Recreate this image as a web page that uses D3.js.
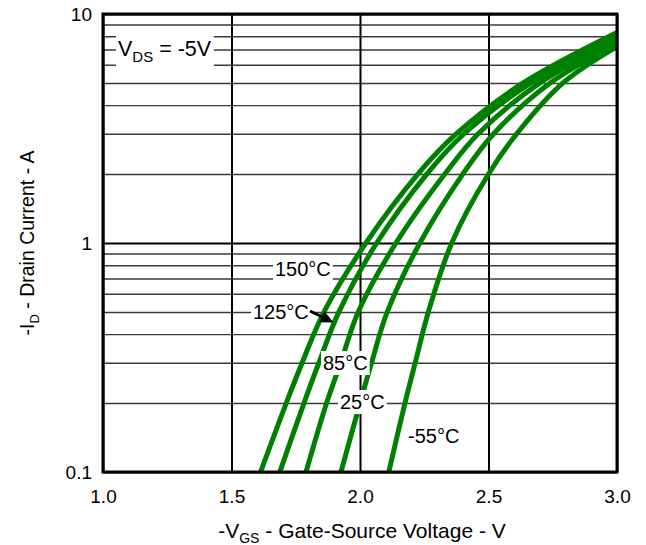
<!DOCTYPE html>
<html>
<head>
<meta charset="utf-8">
<script src="https://cdn.jsdelivr.net/npm/d3@7"></script>
<style>
  body { margin: 0; background: #fff; }
  svg { display: block; font-family: "Liberation Sans", Arial, sans-serif; }
</style>
</head>
<body>
<svg id="chart"></svg>
<script>
var width = 646, height = 545;

// drain current levels (A)
var currents = [0.1, 0.2, 0.3, 0.5, 1, 2, 3, 5];
// gate voltage at each current level, per temperature (V)
var v150 = [1.613, 1.713, 1.775, 1.860, 2.023, 2.225, 2.375, 2.635];
var v125 = [1.688, 1.782, 1.840, 1.918, 2.065, 2.26, 2.405, 2.665];
var v85 = [1.790, 1.870, 1.925, 1.993, 2.140, 2.33, 2.46, 2.70];
var v25 = [1.926, 2.000, 2.045, 2.106, 2.233, 2.40, 2.52, 2.74];
var vm55 = [2.112, 2.175, 2.215, 2.266, 2.357, 2.50, 2.61, 2.79];
// current at -VGS = 3.0 V
var endCurrents = [8.3, 8.0, 7.7, 7.4, 7.2];
var temps = ['150°C', '125°C', '85°C', '25°C', '-55°C'];

var xTicks = [1.0, 1.5, 2.0, 2.5, 3.0];
var yTicks = [0.1, 1, 10];
var yMinor = [0.2, 0.3, 0.4, 0.5, 0.6, 0.7, 0.8, 0.9, 2, 3, 4, 5, 6, 7, 8, 9];

var plotLeft = 103, plotRight = 617, plotTop = 14, plotBottom = 472;

var x = d3.scaleLinear().domain([1, 3]).range([plotLeft, plotRight]);
var y = d3.scaleLog().domain([0.1, 10]).range([plotBottom, plotTop]);

var svg = d3.select('#chart')
    .attr('width', width)
    .attr('height', height);

// minor horizontal grid
svg.append('g')
    .attr('transform', 'translate(' + plotLeft + ',0)')
    .call(d3.axisLeft(y).tickValues(yMinor).tickSize(-(plotRight - plotLeft)).tickFormat(''))
    .call(function (g) { g.select('.domain').remove(); })
    .selectAll('line')
    .attr('stroke', '#3a3a3a')
    .attr('stroke-width', 1.4);

// major horizontal grid + labels
svg.append('g')
    .attr('transform', 'translate(' + plotLeft + ',0)')
    .call(d3.axisLeft(y).tickValues(yTicks).tickSize(-(plotRight - plotLeft)).tickPadding(11)
        .tickFormat(function (d) { return d < 1 ? '0.1' : String(d); }))
    .call(function (g) { g.select('.domain').remove(); })
    .call(function (g) {
        g.selectAll('line').attr('stroke', '#000').attr('stroke-width', 2);
        g.selectAll('text').attr('font-size', 19).attr('fill', '#000')
            .attr('font-family', '"Liberation Sans", Arial, sans-serif');
    });

// vertical grid + labels
svg.append('g')
    .attr('transform', 'translate(0,' + plotBottom + ')')
    .call(d3.axisBottom(x).tickValues(xTicks).tickSize(-(plotBottom - plotTop)).tickPadding(18)
        .tickFormat(d3.format('.1f')))
    .call(function (g) { g.select('.domain').remove(); })
    .call(function (g) {
        g.selectAll('line').attr('stroke', '#000').attr('stroke-width', 2);
        g.selectAll('text').attr('font-size', 19).attr('fill', '#000')
            .attr('font-family', '"Liberation Sans", Arial, sans-serif');
    });

// curves
svg.append('defs').append('clipPath').attr('id', 'plotClip')
    .append('rect')
    .attr('x', plotLeft).attr('y', plotTop)
    .attr('width', plotRight - plotLeft).attr('height', plotBottom - plotTop);

var series = [v150, v125, v85, v25, vm55].map(function (vs, i) {
    var pts = currents.map(function (c, j) { return [vs[j], c]; });
    pts.push([3.0, endCurrents[i]]);
    return pts;
});

var line = d3.line()
    .x(function (d) { return x(d[0]); })
    .y(function (d) { return y(d[1]); })
    .curve(d3.curveCatmullRom.alpha(0.5));

svg.append('g')
    .attr('clip-path', 'url(#plotClip)')
    .selectAll('path')
    .data(series)
    .enter().append('path')
    .attr('d', line)
    .attr('fill', 'none')
    .attr('stroke', '#008000')
    .attr('stroke-width', 5);

// frame
svg.append('rect')
    .attr('x', plotLeft).attr('y', plotTop)
    .attr('width', plotRight - plotLeft).attr('height', plotBottom - plotTop)
    .attr('fill', 'none')
    .attr('stroke', '#000')
    .attr('stroke-width', 3);

// labels with white boxes
function boxedLabel(tx, ty, size, build, pad) {
    var g = svg.append('g');
    var t = g.append('text')
        .attr('x', tx).attr('y', ty)
        .attr('font-size', size)
        .attr('fill', '#000');
    build(t);
    var b = t.node().getBBox();
    g.insert('rect', 'text')
        .attr('x', b.x - pad[0]).attr('y', b.y - pad[1])
        .attr('width', b.width + 2 * pad[0]).attr('height', b.height + 2 * pad[1])
        .attr('fill', '#fff');
    return g;
}

boxedLabel(118, 56, 21.5, function (t) {
    t.append('tspan').text('V');
    t.append('tspan').attr('dy', 6).attr('font-size', 15).text('DS');
    t.append('tspan').attr('dy', -6).text(' = -5V');
}, [2, 1]);

var labelPos = [[275, 276], [253, 319], [323, 370], [340, 409], [408, 443]];
temps.forEach(function (txt, i) {
    boxedLabel(labelPos[i][0], labelPos[i][1], 20, function (t) { t.text(txt); }, [2, 1]);
});

// arrow to the 125°C curve
var tip = [x(1.897), y(0.45)];
var tail = [310, 311];
var ang = Math.atan2(tip[1] - tail[1], tip[0] - tail[0]);
var hl = 13, hw = 6;
var base = [tip[0] - hl * Math.cos(ang), tip[1] - hl * Math.sin(ang)];
svg.append('line')
    .attr('x1', tail[0]).attr('y1', tail[1])
    .attr('x2', base[0]).attr('y2', base[1])
    .attr('stroke', '#000').attr('stroke-width', 3);
svg.append('path')
    .attr('d', 'M' + tip[0] + ',' + tip[1] +
        'L' + (base[0] + hw * Math.sin(ang)) + ',' + (base[1] - hw * Math.cos(ang)) +
        'L' + (base[0] - hw * Math.sin(ang)) + ',' + (base[1] + hw * Math.cos(ang)) + 'Z')
    .attr('fill', '#000');

// axis titles
var xt = svg.append('text')
    .attr('x', 362).attr('y', 538)
    .attr('text-anchor', 'middle')
    .attr('font-size', 21);
xt.append('tspan').text('-V');
xt.append('tspan').attr('dy', 5).attr('font-size', 14).text('GS');
xt.append('tspan').attr('dy', -5).text(' - Gate-Source Voltage - V');

var yt = svg.append('text')
    .attr('transform', 'translate(34,' + ((plotTop + plotBottom) / 2) + ') rotate(-90)')
    .attr('text-anchor', 'middle')
    .attr('font-size', 19.5);
yt.append('tspan').text('-I');
yt.append('tspan').attr('dy', 5).attr('font-size', 13).text('D');
yt.append('tspan').attr('dy', -5).text(' - Drain Current - A');
</script>
</body>
</html>
